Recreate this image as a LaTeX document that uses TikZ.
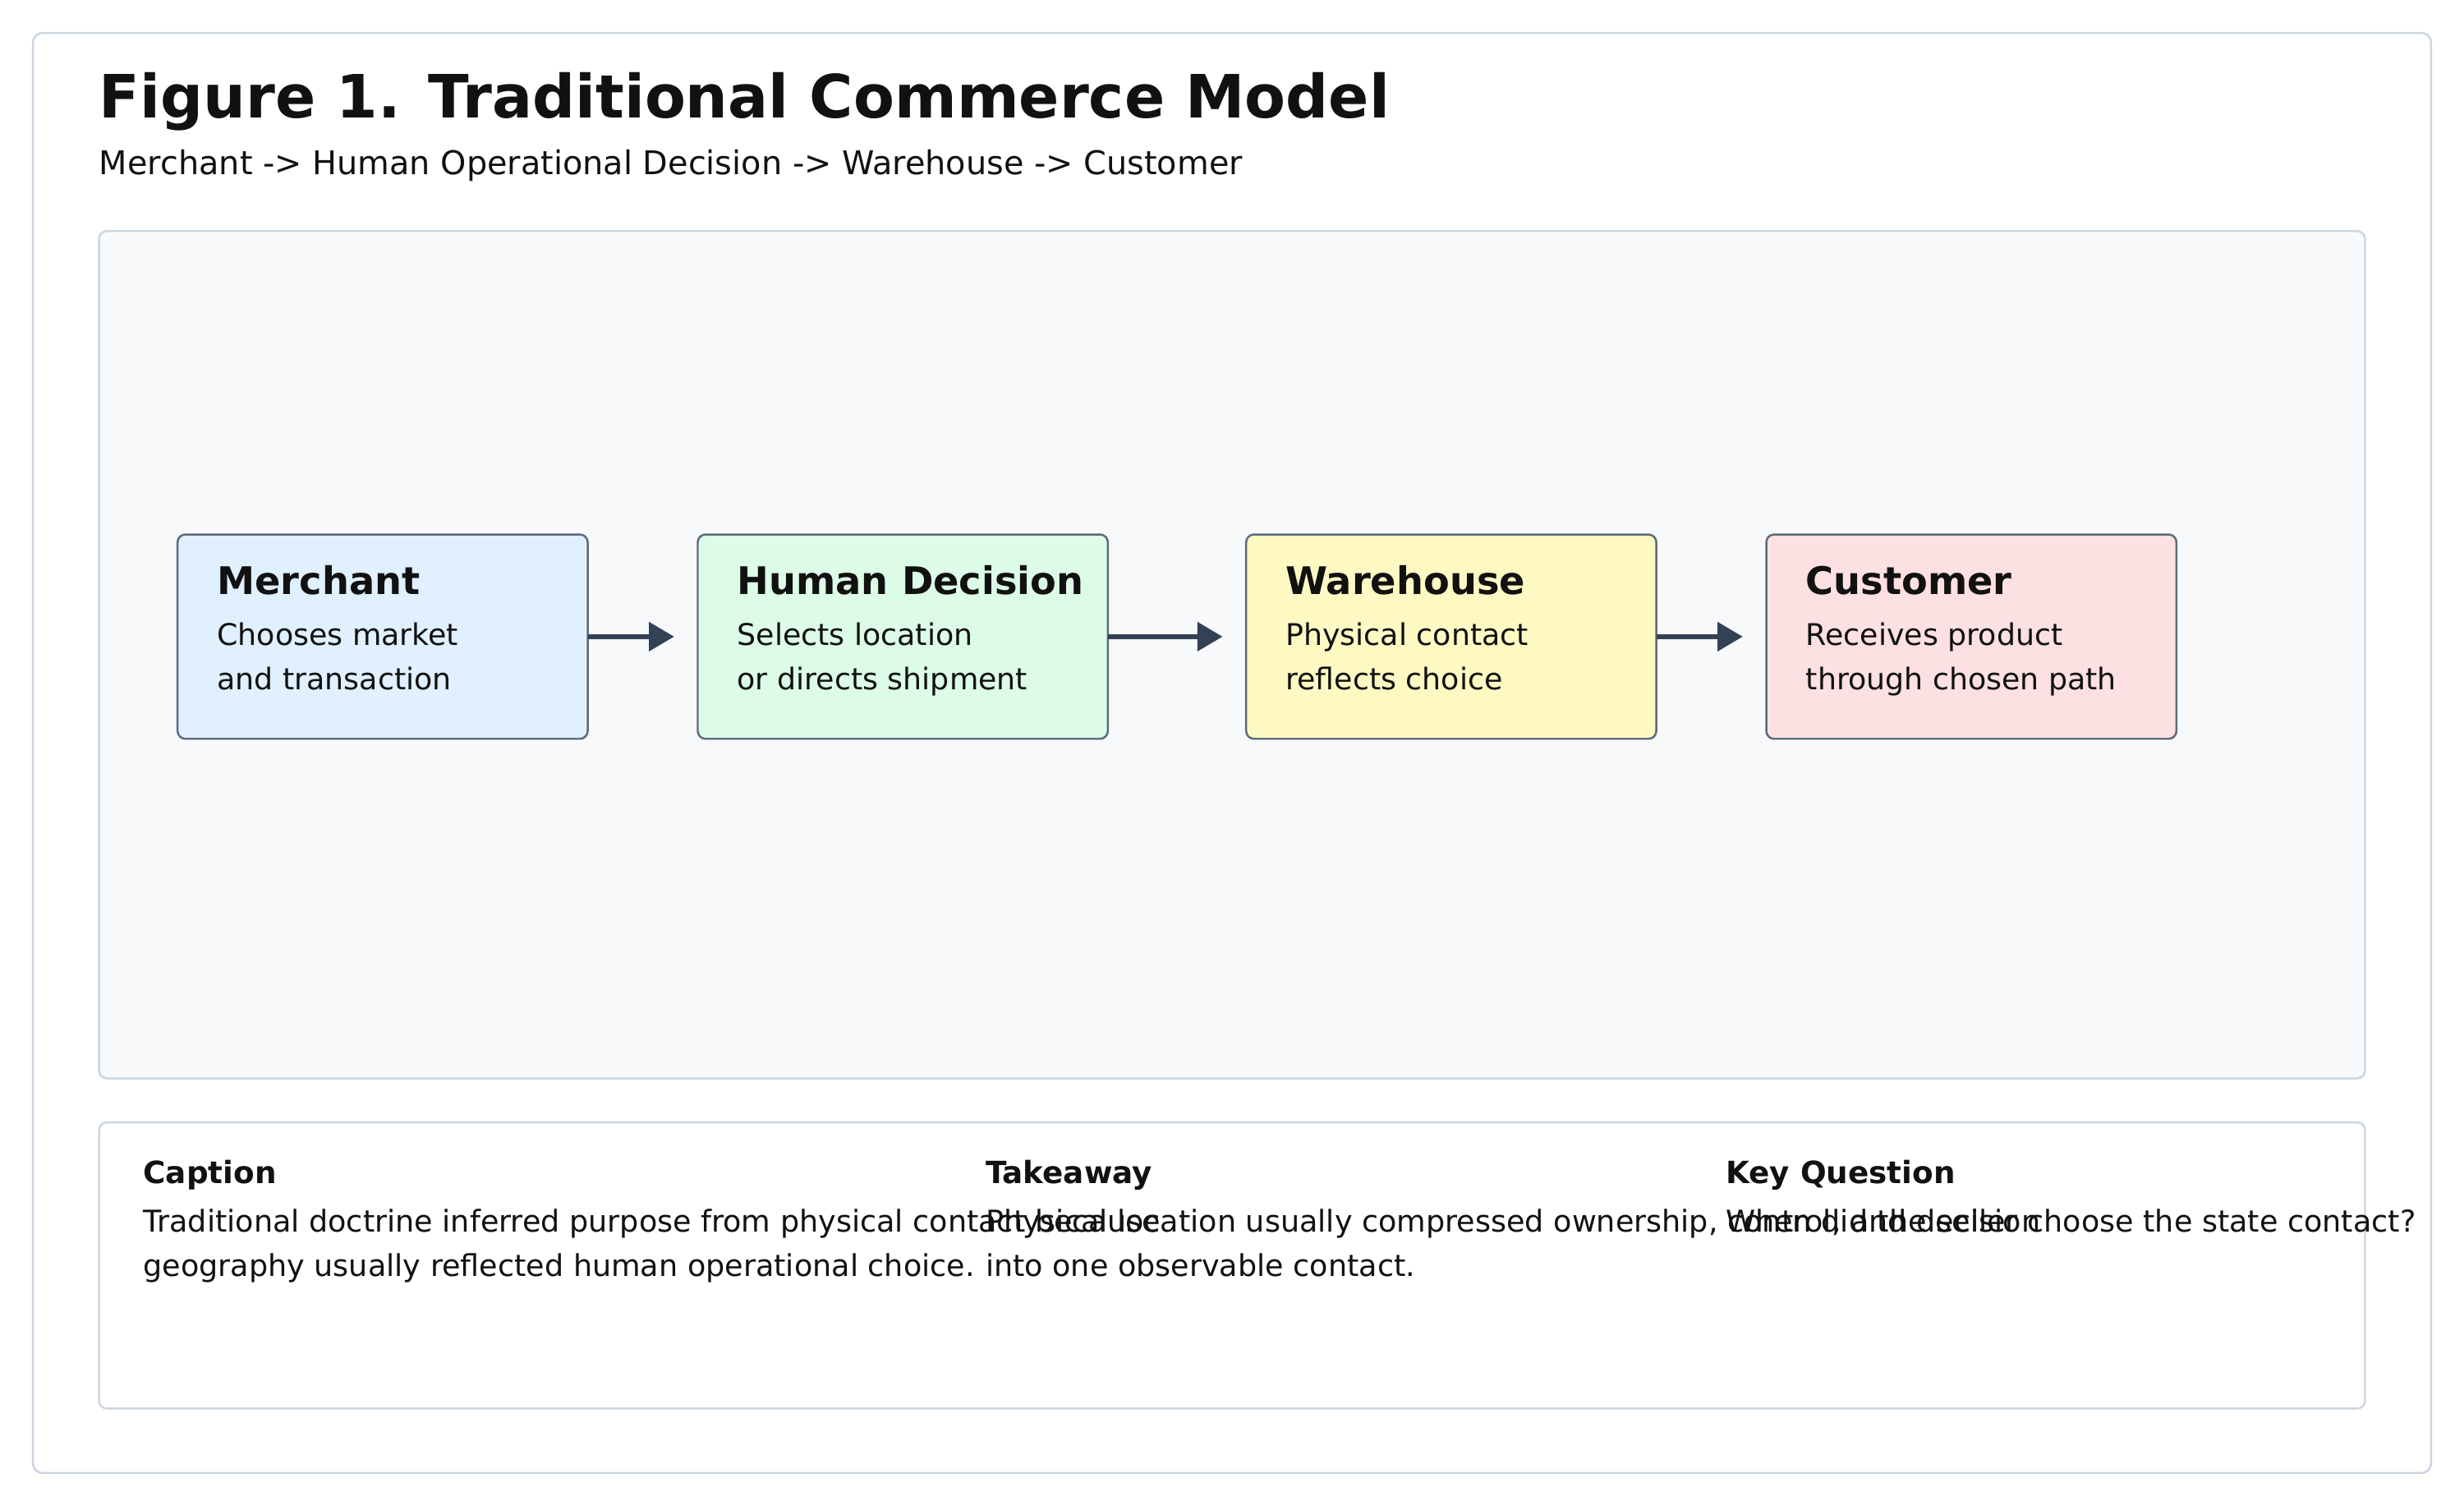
\documentclass[tikz,border=0pt]{standalone}
\usepackage{fontspec}
\setmainfont{DejaVu Sans}
\usetikzlibrary{arrows.meta}
\definecolor{frame}{HTML}{CBD5E1}
\definecolor{ink}{HTML}{111111}
\definecolor{arr}{HTML}{334155}
\definecolor{bord}{HTML}{5B6B7C}
\definecolor{panel}{HTML}{F8F9FB}
\definecolor{cA}{HTML}{E0F0FE}
\definecolor{cB}{HTML}{DCFCE7}
\definecolor{cC}{HTML}{FEF9C3}
\definecolor{cD}{HTML}{FDE0E2}
\begin{document}
\begin{tikzpicture}[x=1pt,y=-1pt,
  txt/.style={anchor=base west,inner sep=0,text=ink},
  mtxt/.style={anchor=north west,inner sep=0,text=ink},
  box/.style={draw=bord,line width=1.3pt,rounded corners=5pt},
  ttl/.style={txt,font=\fontsize{24.2}{28}\selectfont\bfseries},
  bdy/.style={mtxt,font=\fontsize{19}{28}\selectfont,align=left},
  hd/.style={txt,font=\fontsize{19.5}{22}\selectfont\bfseries},
  captxt/.style={mtxt,font=\fontsize{19.1}{28}\selectfont,align=left},
  ar/.style={draw=arr,line width=3pt,-{Triangle[length=16pt,width=18pt]},shorten >=15pt}]
\fill[white] (0,0) rectangle (1568,958);
\draw[frame,line width=1.3pt,rounded corners=6pt,fill=white] (21,21) rectangle (1547,937);
\node[txt,font=\fontsize{38}{42}\selectfont\bfseries] (title) at (63,75) {Figure 1. Traditional Commerce Model};
\node[txt,font=\fontsize{20.8}{24}\selectfont] (sub) at (63,111) {Merchant -> Human Operational Decision -> Warehouse -> Customer};
\draw[frame,line width=1.3pt,rounded corners=5pt,fill=panel] (63,147) rectangle (1505,686);
\foreach \n/\x/\c in {m/113/cA,h/444/cB,w/793/cC,c/1124/cD}{
  \path[box,fill=\c] (\x,340) rectangle (\x+261,470);
  \coordinate (\n L) at (\x,405);
  \coordinate (\n R) at (\x+261,405);
}
\node[ttl] (mt) at (138,378) {Merchant};
\node[bdy] (mb) at (138,396) {Chooses market\\and transaction};
\node[ttl] (ht) at (469,378) {Human Decision};
\node[bdy] (hb) at (469,396) {Selects location\\or directs shipment};
\node[ttl] (wt) at (818,378) {Warehouse};
\node[bdy] (wb) at (818,396) {Physical contact\\reflects choice};
\node[ttl] (ct) at (1149,378) {Customer};
\node[bdy] (cb) at (1149,396) {Receives product\\through chosen path};
\draw[ar] (mR) -- (hL);
\draw[ar] (hR) -- (wL);
\draw[ar] (wR) -- (cL);
\draw[frame,line width=1.3pt,rounded corners=5pt,fill=white] (63,714) rectangle (1505,896);
\node[hd] (h1) at (91,753) {Caption};
\node[hd] (h2) at (627,753) {Takeaway};
\node[hd] (h3) at (1098,753) {Key Question};
\node[captxt] (t1) at (91,769) {Traditional doctrine inferred purpose from physical contact because\\geography usually reflected human operational choice.};
\node[captxt] (t2) at (627,769) {Physical location usually compressed ownership, control, and decision\\into one observable contact.};
\node[captxt] (t3) at (1098,769) {When did the seller choose the state contact?};
\end{tikzpicture}
\end{document}
